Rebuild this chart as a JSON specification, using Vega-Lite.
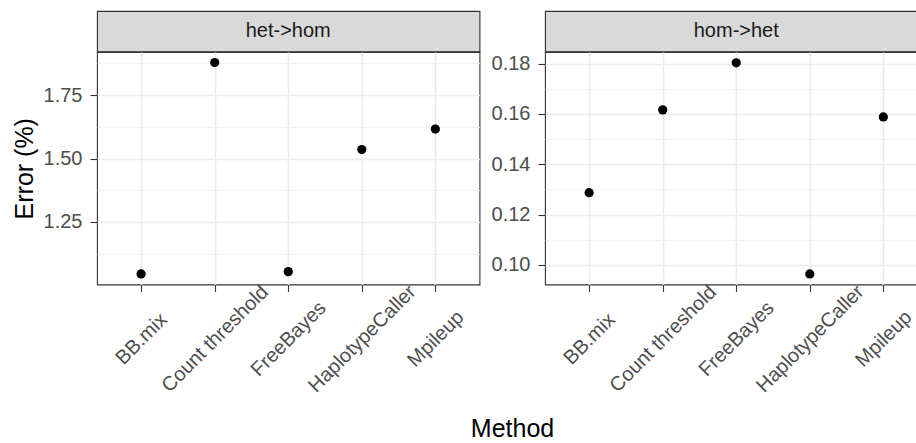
{
  "$schema": "https://vega.github.io/schema/vega-lite/v6.json",
  "autosize": {"type": "pad"},
  "padding": {"left": 11, "top": 10, "right": 0, "bottom": 0},
  "background": "white",
  "datasets": {
    "points": [
      {"type": "het->hom", "Method": "BB.mix", "error": 1.0445},
      {"type": "het->hom", "Method": "Count threshold", "error": 1.8786},
      {"type": "het->hom", "Method": "FreeBayes", "error": 1.0536},
      {"type": "het->hom", "Method": "HaplotypeCaller", "error": 1.5356},
      {"type": "het->hom", "Method": "Mpileup", "error": 1.616},
      {"type": "hom->het", "Method": "BB.mix", "error": 0.1287},
      {"type": "hom->het", "Method": "Count threshold", "error": 0.1616},
      {"type": "hom->het", "Method": "FreeBayes", "error": 0.1803},
      {"type": "hom->het", "Method": "HaplotypeCaller", "error": 0.0964},
      {"type": "hom->het", "Method": "Mpileup", "error": 0.1588}
    ],
    "panels": [
      {"panel": "het->hom"},
      {"panel": "hom->het"}
    ]
  },
  "bounds": "flush",
  "columns": 2,
  "spacing": {"column": 65, "row": 0},
  "concat": [
    {
      "data": {"name": "panels"},
      "transform": [{"filter": "datum.panel === 'het->hom'"}],
      "width": 382.5,
      "height": 40.5,
      "view": {"fill": "#d9d9d9", "stroke": "#333333", "strokeWidth": 1.1},
      "mark": {"type": "text", "fontSize": 20, "font": "Liberation Sans", "color": "#1a1a1a", "baseline": "middle", "align": "center"},
      "encoding": {"text": {"field": "panel", "type": "nominal"}}
    },
    {
      "data": {"name": "panels"},
      "transform": [{"filter": "datum.panel === 'hom->het'"}],
      "width": 382.5,
      "height": 40.5,
      "view": {"fill": "#d9d9d9", "stroke": "#333333", "strokeWidth": 1.1},
      "mark": {"type": "text", "fontSize": 20, "font": "Liberation Sans", "color": "#1a1a1a", "baseline": "middle", "align": "center"},
      "encoding": {"text": {"field": "panel", "type": "nominal"}}
    },
    {
      "data": {"name": "points"},
      "transform": [{"filter": "datum.type === 'het->hom'"}],
      "width": 382.5,
      "height": 232.5,
      "view": {"stroke": "#333333", "strokeWidth": 1.1},
      "encoding": {
        "x": {
          "field": "Method",
          "type": "nominal",
          "scale": {"type": "point", "padding": 0.6},
          "axis": {
            "title": "Method",
            "titleX": 415,
            "titleY": 151.5,
            "titleBaseline": "alphabetic",
            "titleAlign": "center",
            "labelAngle": -45,
            "labelAlign": "center",
            "labelBaseline": "middle",
            "labelPadding": 47,
            "grid": true
          }
        }
      },
      "layer": [
        {
          "mark": {"type": "circle", "opacity": 0},
          "encoding": {
            "y": {
              "field": "error",
              "type": "quantitative",
              "scale": {"domain": [1.0028, 1.9203], "nice": false, "zero": false},
              "axis": {
                "orient": "left",
                "values": [1.125, 1.375, 1.625, 1.875],
                "grid": true,
                "gridColor": "#f2f2f2",
                "gridWidth": 1,
                "labels": false,
                "ticks": false,
                "domain": false,
                "title": null
              }
            }
          }
        },
        {
          "mark": {"type": "circle", "size": 85, "color": "#000000", "opacity": 1},
          "encoding": {
            "y": {
              "field": "error",
              "type": "quantitative",
              "scale": {"domain": [1.0028, 1.9203], "nice": false, "zero": false},
              "axis": {
                "orient": "left",
                "values": [1.25, 1.5, 1.75],
                "format": ".2f",
                "grid": true,
                "title": "Error (%)",
                "titleX": -65,
                "titleY": 116.25,
                "titleAngle": -90,
                "titleBaseline": "alphabetic",
                "titleAlign": "center"
              }
            }
          }
        }
      ],
      "resolve": {"axis": {"y": "independent"}}
    },
    {
      "data": {"name": "points"},
      "transform": [{"filter": "datum.type === 'hom->het'"}],
      "width": 382.5,
      "height": 232.5,
      "view": {"stroke": "#333333", "strokeWidth": 1.1},
      "encoding": {
        "x": {
          "field": "Method",
          "type": "nominal",
          "scale": {"type": "point", "padding": 0.6},
          "axis": {
            "title": null,
            "labelAngle": -45,
            "labelAlign": "center",
            "labelBaseline": "middle",
            "labelPadding": 47,
            "grid": true
          }
        }
      },
      "layer": [
        {
          "mark": {"type": "circle", "opacity": 0},
          "encoding": {
            "y": {
              "field": "error",
              "type": "quantitative",
              "scale": {"domain": [0.0922, 0.1846], "nice": false, "zero": false},
              "axis": {
                "orient": "left",
                "values": [0.11, 0.13, 0.15, 0.17],
                "grid": true,
                "gridColor": "#f2f2f2",
                "gridWidth": 1,
                "labels": false,
                "ticks": false,
                "domain": false,
                "title": null
              }
            }
          }
        },
        {
          "mark": {"type": "circle", "size": 85, "color": "#000000", "opacity": 1},
          "encoding": {
            "y": {
              "field": "error",
              "type": "quantitative",
              "scale": {"domain": [0.0922, 0.1846], "nice": false, "zero": false},
              "axis": {
                "orient": "left",
                "values": [0.1, 0.12, 0.14, 0.16, 0.18],
                "format": ".2f",
                "grid": true,
                "title": null
              }
            }
          }
        }
      ],
      "resolve": {"axis": {"y": "independent"}}
    }
  ],
  "config": {
    "font": "Liberation Sans",
    "axis": {
      "labelFont": "Liberation Sans",
      "labelFontSize": 20,
      "labelColor": "#4d4d4d",
      "titleFont": "Liberation Sans",
      "titleFontSize": 25,
      "titleFontWeight": "normal",
      "titleColor": "#000000",
      "domain": false,
      "tickColor": "#333333",
      "tickWidth": 1.1,
      "tickSize": 7,
      "labelPadding": 8,
      "gridColor": "#ebebeb",
      "gridWidth": 1.6
    }
  }
}
